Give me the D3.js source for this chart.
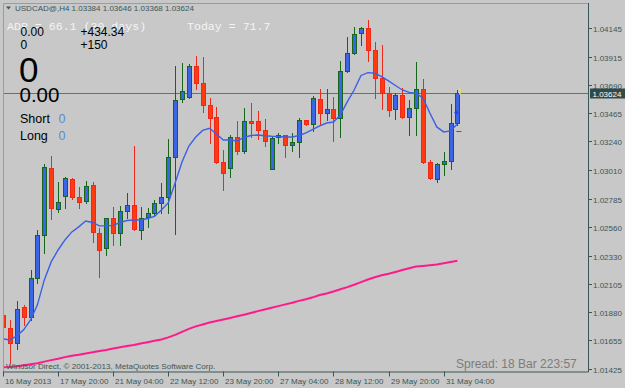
<!DOCTYPE html>
<html>
<head>
<meta charset="utf-8">
<script src="https://cdn.jsdelivr.net/npm/d3@7"></script>
<style>
  html, body { margin: 0; padding: 0; background: #c8c8c8; }
  svg { display: block; font-family: "Liberation Sans", Arial, sans-serif; }
</style>
</head>
<body>
<div id="chart"></div>
<script>
// USDCAD@ H4, 16 May 12:00 .. 31 May 12:00 (67 bars)
const OPEN = [1.01858,1.01757,1.01633,1.01924,1.01840,1.02155,1.02495,1.03026,1.02699,1.02805,
  1.02938,1.02800,1.02765,1.02891,1.02513,1.02389,1.02630,1.02513,1.02688,1.02734,
  1.02535,1.02641,1.02668,1.02747,1.02795,1.03113,1.03575,1.03596,1.03840,1.03702,
  1.03527,1.03432,1.03078,1.03026,1.03273,1.03166,1.03400,1.03400,1.03331,1.03020,
  1.03273,1.03289,1.03209,1.03233,1.03408,1.03378,1.03581,1.03464,1.03496,1.03424,
  1.03800,1.03946,1.04100,1.04145,1.03967,1.03742,1.03623,1.03498,1.03609,1.03432,
  1.03503,1.03655,1.03078,1.02938,1.03058,1.03084,1.03384];
const HIGH = [1.02057,1.01818,1.01972,1.01938,1.02216,1.02535,1.03060,1.03124,1.02919,1.02954,
  1.02946,1.02879,1.02927,1.02919,1.02548,1.02633,1.02720,1.02726,1.02827,1.03203,
  1.02720,1.02707,1.02773,1.02906,1.03261,1.03843,1.03866,1.03856,1.03920,1.03909,
  1.03583,1.03516,1.03171,1.03291,1.03402,1.03503,1.03548,1.03484,1.03416,1.03283,
  1.03304,1.03293,1.03304,1.03424,1.03410,1.03601,1.03657,1.03655,1.03593,1.03882,
  1.04073,1.04148,1.04148,1.04206,1.04034,1.04007,1.03675,1.03623,1.03663,1.03569,
  1.03874,1.03734,1.03092,1.03066,1.03158,1.03538,1.03646];
const LOW = [1.01731,1.01476,1.01585,1.01778,1.01818,1.02110,1.02349,1.02620,1.02680,1.02707,
  1.02779,1.02707,1.02747,1.02442,1.02163,1.02336,1.02415,1.02415,1.02628,1.02535,
  1.02461,1.02556,1.02654,1.02672,1.02668,1.02500,1.03556,1.03583,1.03655,1.03476,
  1.03225,1.03066,1.02853,1.02959,1.03136,1.03145,1.03273,1.03257,1.03203,1.03018,
  1.03230,1.03118,1.03166,1.03118,1.03370,1.03325,1.03378,1.03410,1.03239,1.03277,
  1.03795,1.03936,1.04007,1.03882,1.03583,1.03495,1.03442,1.03418,1.03424,1.03291,
  1.03291,1.03070,1.02938,1.02919,1.02973,1.03018,1.03368];
const CLOSE = [1.01763,1.01638,1.01903,1.01845,1.02150,1.02495,1.03034,1.02707,1.02755,1.02946,
  1.02800,1.02760,1.02887,1.02521,1.02375,1.02630,1.02513,1.02688,1.02731,1.02540,
  1.02630,1.02668,1.02747,1.02795,1.03113,1.03567,1.03644,1.03840,1.03707,1.03530,
  1.03424,1.03078,1.02991,1.03273,1.03166,1.03400,1.03389,1.03331,1.03245,1.03269,
  1.03289,1.03209,1.03233,1.03408,1.03378,1.03583,1.03464,1.03496,1.03424,1.03800,
  1.03946,1.04095,1.04145,1.03967,1.03742,1.03623,1.03490,1.03609,1.03432,1.03503,
  1.03655,1.03078,1.02946,1.03058,1.03084,1.03384,1.03624];

// moving averages
const MA_FAST = [1.01667,1.01659,1.01691,1.01739,1.01818,1.01938,1.02137,1.02280,1.02375,1.02455,
  1.02519,1.02559,1.02606,1.02594,1.02567,1.02567,1.02571,1.02594,1.02610,1.02614,
  1.02614,1.02626,1.02642,1.02694,1.02750,1.02909,1.03076,1.03203,1.03275,1.03327,
  1.03344,1.03299,1.03251,1.03251,1.03243,1.03271,1.03287,1.03291,1.03285,1.03281,
  1.03279,1.03275,1.03275,1.03287,1.03307,1.03335,1.03363,1.03386,1.03394,1.03450,
  1.03554,1.03649,1.03765,1.03787,1.03782,1.03755,1.03721,1.03685,1.03649,1.03630,
  1.03621,1.03585,1.03466,1.03355,1.03315,1.03323,1.03378];
const MA_SLOW = [1.01440,1.01444,1.01450,1.01458,1.01466,1.01474,1.01486,1.01498,1.01509,1.01522,
  1.01533,1.01541,1.01551,1.01560,1.01571,1.01579,1.01591,1.01601,1.01611,1.01619,
  1.01630,1.01641,1.01652,1.01662,1.01679,1.01699,1.01723,1.01747,1.01767,1.01782,
  1.01798,1.01810,1.01822,1.01834,1.01847,1.01860,1.01874,1.01888,1.01901,1.01915,
  1.01928,1.01942,1.01955,1.01970,1.01983,1.01998,1.02016,1.02029,1.02044,1.02062,
  1.02079,1.02098,1.02119,1.02140,1.02158,1.02174,1.02186,1.02200,1.02215,1.02230,
  1.02243,1.02248,1.02254,1.02260,1.02270,1.02280,1.02290];

const PRICE_TICKS = [1.04145,1.03915,1.03690,1.03465,1.03240,1.03010,1.02785,1.02560,
  1.02330,1.02105,1.01880,1.01655,1.01425];
const TIME_TICK_BARS   = [0, 8, 16, 24, 32, 40, 48, 56, 64];
const TIME_TICK_LABELS = ["16 May 2013","17 May 20:00","21 May 04:00","22 May 12:00",
  "23 May 20:00","27 May 04:00","28 May 12:00","29 May 20:00","31 May 04:00"];

const SYMBOL  = "USDCAD@,H4";
const BID     = 1.03624;
const ADR     = 66.1;
const TODAY   = 71.7;

const W = 625, H = 388;
const PLOT = { left: 3, right: 588, top: 3, bottom: 371.5 };
const AXIS_COL = "#3b5656";
const BULL_BODY = "#3a66e6", BULL_LINE = "#16661a";
const BEAR_BODY = "#ff3a10", BEAR_LINE = "#f02818";

const svg = d3.select("#chart").append("svg")
  .attr("width", W).attr("height", H);

svg.append("rect").attr("width", W).attr("height", H).attr("fill", "#c8c8c8");

const x = d3.scaleLinear().domain([0, 66]).range([3, 457.4]);
const y = d3.scaleLinear().domain([1.01425, 1.04145]).range([369.3, 27.7]);

svg.append("clipPath").attr("id", "plot-clip")
  .append("rect")
  .attr("x", PLOT.left + 1).attr("y", PLOT.top + 1)
  .attr("width", PLOT.right - PLOT.left - 1)
  .attr("height", PLOT.bottom - PLOT.top - 1);

// frame
svg.append("path")
  .attr("d", `M${PLOT.left + 0.5},${PLOT.bottom}V${PLOT.top + 0.5}H${PLOT.right}`)
  .attr("fill", "none").attr("stroke", "#9c9c9c");
svg.append("path")
  .attr("d", `M${PLOT.left},${PLOT.bottom + 0.5}H${PLOT.right + 0.5}V${PLOT.top}`)
  .attr("fill", "none").attr("stroke", AXIS_COL);

// price axis ticks
const yAxis = svg.append("g").attr("class", "y-axis");
PRICE_TICKS.forEach(v => {
  const yy = Math.round(y(v)) + 0.5;
  yAxis.append("line")
    .attr("x1", PLOT.right + 0.5).attr("x2", PLOT.right + 4)
    .attr("y1", yy).attr("y2", yy)
    .attr("stroke", AXIS_COL);
  yAxis.append("text")
    .attr("x", 593).attr("y", yy + 3)
    .style("font-size", "8px").style("fill", AXIS_COL)
    .text(v.toFixed(5));
});

// time axis ticks
const xAxis = svg.append("g").attr("class", "x-axis");
TIME_TICK_BARS.forEach((b, k) => {
  const xx = Math.round(x(b)) + 0.5;
  xAxis.append("line")
    .attr("x1", xx).attr("x2", xx)
    .attr("y1", PLOT.bottom).attr("y2", PLOT.bottom + 5)
    .attr("stroke", AXIS_COL);
  xAxis.append("text")
    .attr("x", xx + 1.5).attr("y", 383.5)
    .style("font-size", "8px").style("fill", AXIS_COL)
    .text(TIME_TICK_LABELS[k]);
});

const plot = svg.append("g").attr("clip-path", "url(#plot-clip)");

// bid line
const bidY = Math.round(y(BID)) + 0.5;
plot.append("line")
  .attr("x1", PLOT.left).attr("x2", PLOT.right)
  .attr("y1", bidY).attr("y2", bidY)
  .attr("stroke", "#6e7070");

// candles
const bars = d3.range(OPEN.length);
const candles = plot.append("g").selectAll("g").data(bars).join("g");

candles.append("line")
  .attr("x1", i => Math.round(x(i)) + 0.5)
  .attr("x2", i => Math.round(x(i)) + 0.5)
  .attr("y1", i => Math.round(y(HIGH[i])))
  .attr("y2", i => Math.round(y(LOW[i])) + 1)
  .attr("stroke", i => CLOSE[i] >= OPEN[i] ? BULL_LINE : BEAR_LINE);

candles.append("rect")
  .attr("x", i => Math.round(x(i)) - 1.5)
  .attr("width", 4)
  .attr("y", i => Math.round(y(Math.max(OPEN[i], CLOSE[i]))) + 0.5)
  .attr("height", i => Math.max(1, Math.round(y(Math.min(OPEN[i], CLOSE[i]))) - Math.round(y(Math.max(OPEN[i], CLOSE[i])))))
  .attr("fill", i => CLOSE[i] >= OPEN[i] ? BULL_BODY : BEAR_BODY)
  .attr("stroke", i => CLOSE[i] >= OPEN[i] ? BULL_LINE : BEAR_LINE);

// moving averages
const line = arr => d3.line().x((d, i) => x(i)).y(d => y(d))(arr);
plot.append("path").attr("d", line(MA_SLOW))
  .attr("fill", "none").attr("stroke", "#ff1a8c").attr("stroke-width", 2);
plot.append("path").attr("d", line(MA_FAST))
  .attr("fill", "none").attr("stroke", "#3a60e8").attr("stroke-width", 1.4);

// small markers at the last bar
const last = OPEN.length - 1;
plot.append("path")
  .attr("d", `M${x(last) - 3},${y(1.03469)}h4M${x(last) - 1},${y(1.03469) - 2}v4`)
  .attr("stroke", "#2040ff").attr("stroke-width", 1.5);
plot.append("line")
  .attr("x1", x(last) - 1).attr("x2", x(last) + 4)
  .attr("y1", Math.round(y(1.03325)) + 0.5).attr("y2", Math.round(y(1.03325)) + 0.5)
  .attr("stroke", "#e02020");
plot.append("line")
  .attr("x1", x(last) + 2.5).attr("x2", x(last) + 2.5)
  .attr("y1", y(1.03660)).attr("y2", y(1.03612))
  .attr("stroke", "#f0e040").attr("stroke-width", 1.5);

// bid label on the price axis
svg.append("rect")
  .attr("x", 590).attr("y", bidY - 5)
  .attr("width", 35).attr("height", 10)
  .attr("fill", "#2f4a4a");
svg.append("text")
  .attr("x", 592.5).attr("y", bidY + 3)
  .style("font-size", "8px").style("fill", "#ffffff")
  .text(BID.toFixed(5));

// header
svg.append("path").attr("d", "M6,6.5h5l-2.5,3z").attr("fill", AXIS_COL);
svg.append("text")
  .attr("x", 15).attr("y", 11)
  .style("font-size", "8px").style("fill", AXIS_COL)
  .text(`${SYMBOL}  ${OPEN[last].toFixed(5)} ${HIGH[last].toFixed(5)} ${LOW[last].toFixed(5)} ${CLOSE[last].toFixed(5)}`);

// ADR text (white, monospace)
const mono = svg.append("g")
  .style("font-family", "'Liberation Mono', 'Courier New', monospace")
  .style("font-size", "11.6px").style("fill", "#f4f4f4");
mono.append("text").attr("x", 7).attr("y", 30).text(`ADR = ${ADR} (30 days)`);
mono.append("text").attr("x", 187).attr("y", 30).text(`Today = ${TODAY}`);

// account panel text
const info = svg.append("g").style("fill", "#000");
info.append("text").attr("x", 20.5).attr("y", 35.5).style("font-size", "12px").text("0.00");
info.append("text").attr("x", 80.5).attr("y", 35.5).style("font-size", "12px").text("+434.34");
info.append("text").attr("x", 20.5).attr("y", 49).style("font-size", "12px").text("0");
info.append("text").attr("x", 80.5).attr("y", 49).style("font-size", "12px").text("+150");
info.append("text").attr("x", 19).attr("y", 81.5).style("font-size", "35px").text("0");
info.append("text").attr("x", 19.5).attr("y", 101.5).style("font-size", "20.5px").text("0.00");
info.append("text").attr("x", 20).attr("y", 123.3).style("font-size", "12.5px").text("Short");
info.append("text").attr("x", 20).attr("y", 140).style("font-size", "12.5px").text("Long");
info.append("text").attr("x", 58.5).attr("y", 123.3).style("font-size", "12.5px").style("fill", "#5a8ad6").text("0");
info.append("text").attr("x", 58.5).attr("y", 140).style("font-size", "12.5px").style("fill", "#5a8ad6").text("0");

// footer texts
svg.append("text")
  .attr("x", 6).attr("y", 369)
  .style("font-size", "8.1px").style("fill", AXIS_COL)
  .text("Windsor Direct, \u00a9 2001-2013, MetaQuotes Software Corp.");
svg.append("text")
  .attr("x", 456).attr("y", 368.3)
  .style("font-size", "12px").style("fill", "#7c7c7c")
  .text("Spread: 18 Bar  223:57");
</script>
</body>
</html>
